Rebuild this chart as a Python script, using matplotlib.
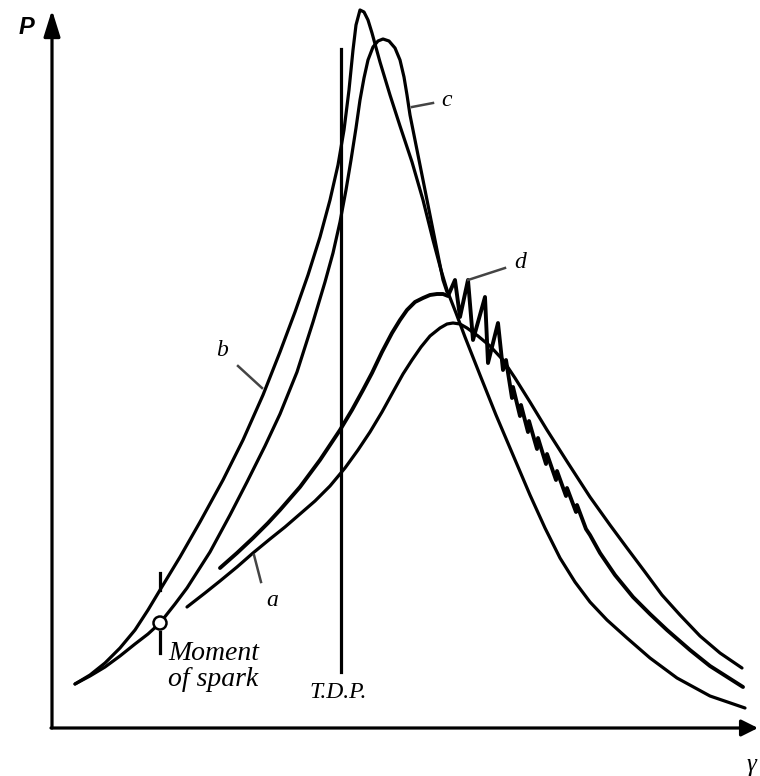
"""
Pressure vs crank angle sketch: normal combustion, early ignition, knock.
Axes are in arbitrary units; origin of the P / gamma axes at (0, 0).
"""
import matplotlib.pyplot as plt
from matplotlib.patches import Circle

# =========================================================
# DATA (arbitrary units)
# =========================================================

# curve b - earliest ignition / highest peak
b_x = [23, 38, 53, 68, 83, 96, 108, 128, 148, 171, 191, 211, 228, 243, 256, 268, 278, 286,
       292, 297, 301, 304, 308, 312, 316, 320, 328, 338, 348, 360, 371, 381, 389, 395, 404,
       413, 428, 444, 461, 478, 493, 508, 523, 538, 555, 575, 598, 625, 658, 693]
b_p = [44, 53, 65, 80, 98, 118, 138, 171, 206, 248, 288, 333, 376, 416, 453, 491, 528, 563,
       598, 638, 678, 703, 718, 716, 708, 695, 666, 633, 602, 566, 528, 488, 458, 438, 415,
       391, 353, 313, 273, 233, 200, 170, 146, 126, 108, 90, 70, 50, 32, 20]

# curve c - second highest, rounded top
c_x = [23, 38, 53, 68, 83, 96, 108, 123, 135, 158, 178, 195, 213, 228, 245, 261, 273, 281,
       288, 294, 299, 304, 308, 312, 316, 321, 326, 331, 337, 343, 348, 352, 355, 358, 362,
       367, 375, 384, 391, 395]
c_p = [44, 52, 61, 72, 84, 94, 105, 124, 140, 176, 213, 246, 282, 314, 356, 406, 446, 475,
       506, 538, 568, 600, 628, 650, 668, 681, 687, 689, 687, 680, 668, 651, 633, 613, 593,
       568, 528, 483, 448, 436]

# curve a - normal combustion
a_x = [135, 153, 168, 185, 201, 218, 233, 248, 263, 278, 293, 306, 318, 330, 341, 351, 360,
       369, 378, 388, 395, 401, 408, 415, 426, 438, 451, 463, 478, 495, 516, 538, 558, 575,
       593, 610, 628, 648, 668, 690]
a_p = [121, 135, 147, 161, 175, 189, 201, 214, 227, 242, 260, 278, 296, 316, 336, 354, 368,
       381, 392, 400, 404, 405, 404, 400, 392, 382, 368, 350, 326, 298, 265, 231, 203, 180,
       156, 133, 113, 92, 75, 60]

# curve d - knocking combustion
d_x = [168, 185, 201, 216, 228, 248, 268, 288, 300, 311, 320, 330, 340, 348, 355, 363, 371,
       378, 385, 391, 396, 403, 408, 416, 421, 433, 436, 446, 451, 454, 460, 461, 468, 469,
       476, 477, 485, 486, 494, 495, 504, 505, 514, 515, 524, 525, 534, 538, 548, 563, 581,
       598, 615, 638, 658, 691]
d_p = [160, 175, 190, 205, 218, 241, 268, 298, 318, 338, 355, 376, 395, 408, 418, 426, 430,
       433, 434, 434, 432, 448, 411, 448, 388, 431, 365, 405, 358, 368, 330, 341, 312, 323,
       296, 307, 279, 290, 264, 274, 248, 257, 232, 240, 216, 223, 199, 193, 175, 153, 131,
       114, 98, 78, 62, 41]

# label pointers and label anchors
pointers = {
    'a': ([202, 209], [173, 146]),
    'b': ([186, 210], [362, 340]),
    'c': ([360, 381], [621, 625]),
    'd': ([416, 453], [448, 460]),
}
labels = {'a': (220, 128), 'b': (170, 378), 'c': (395, 628), 'd': (468, 465)}

spark_x, spark_p = 108, 105
tdp_x = 289
tdp_range = (56, 679)

# =========================================================
# DRAW
# =========================================================

fig = plt.figure(figsize=(7.6, 7.76), dpi=100)
ax = fig.add_axes([0, 0, 1, 1])
ax.set_xlim(-52, 708)
ax.set_ylim(-48, 728)
ax.axis('off')

lw = 2.3
for xs, ps in [(b_x, b_p), (c_x, c_p), (a_x, a_p)]:
    ax.plot(xs, ps, color='black', lw=lw, solid_joinstyle='round', solid_capstyle='round')
ax.plot(d_x, d_p, color='black', lw=2.8, solid_joinstyle='round', solid_capstyle='round')

# axes with arrows
ax.annotate('', xy=(0, 718), xytext=(0, 0),
            arrowprops=dict(arrowstyle='-|>,head_length=1.6,head_width=0.5', lw=2.3,
                            color='black', mutation_scale=10, shrinkA=0, shrinkB=0))
ax.annotate('', xy=(706, 0), xytext=(-1, 0),
            arrowprops=dict(arrowstyle='-|>,head_length=1.0,head_width=0.5', lw=2.3,
                            color='black', mutation_scale=10, shrinkA=0, shrinkB=0))
ax.text(-26, 700, 'P', fontsize=17, fontweight='bold', fontstyle='italic',
        family='Liberation Sans', ha='center', va='center')
ax.text(699, -37, 'γ', fontsize=18, fontstyle='italic', family='Liberation Serif',
        ha='center', va='center')

# T.D.P. line
ax.plot([tdp_x, tdp_x], tdp_range, color='black', lw=2.3)
ax.text(286, 30, 'T.D.P.', fontsize=17, fontstyle='italic', family='Liberation Serif',
        ha='center', va='baseline')

# moment of spark
ax.plot([spark_x, spark_x], [138, 155], color='black', lw=2.3)
ax.plot([spark_x, spark_x], [75, 96], color='black', lw=2.3)
ax.add_patch(Circle((spark_x, spark_p), 6.5, facecolor='white', edgecolor='black', lw=1.8,
                    zorder=5))
ax.text(116, 68, 'Moment', fontsize=20, fontstyle='italic', family='Liberation Serif',
        ha='left', va='baseline')
ax.text(116, 42, 'of spark', fontsize=20, fontstyle='italic', family='Liberation Serif',
        ha='left', va='baseline')

# curve labels
for key, (xs, ps) in pointers.items():
    ax.plot(xs, ps, color='#444444', lw=1.8)
    lx, lp = labels[key]
    ax.text(lx, lp, key, fontsize=17, fontstyle='italic', family='Liberation Serif',
            ha='center', va='center')

plt.savefig('out.png', dpi=100)
